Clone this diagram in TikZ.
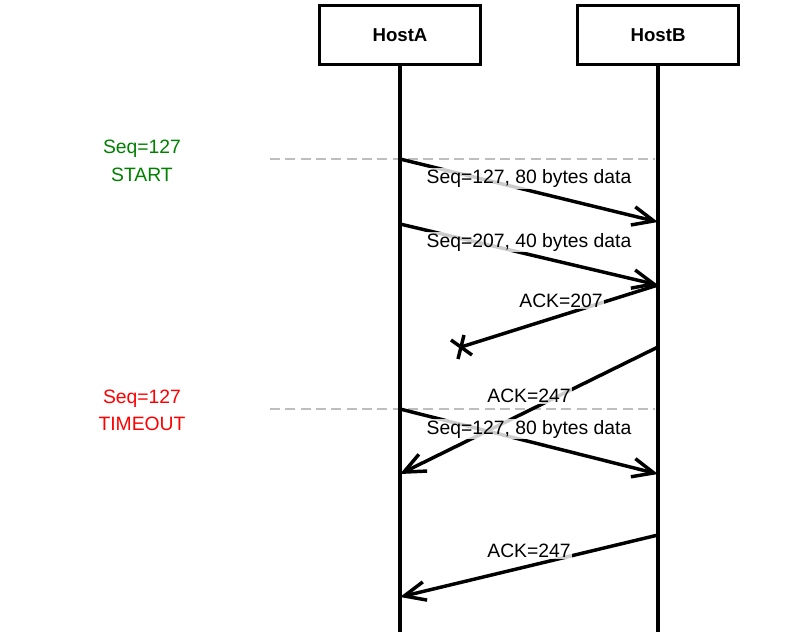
\documentclass[tikz,border=0pt]{standalone}
\usepackage{fontspec}
\setmainfont{Liberation Sans}
\usetikzlibrary{arrows.meta}
\definecolor{dashgray}{RGB}{190,190,190}
\definecolor{startgreen}{RGB}{0,128,0}
\definecolor{timeoutred}{RGB}{255,0,0}
\begin{document}
\begin{tikzpicture}[x=0.75pt,y=-0.75pt,
  font=\fontsize{14.5}{17}\selectfont,
  host/.style={draw, line width=2.6pt, minimum width=120.5pt, minimum height=44pt, inner sep=0pt,
    font=\fontsize{14}{17}\selectfont\bfseries},
  life/.style={line width=2.6pt},
  msg/.style={line width=2.6pt, -{Straight Barb[length=16pt,width=14pt,line width=2.6pt]}},
  lost/.style={line width=2.6pt},
  lbl/.style={fill=white, fill opacity=0.8, text opacity=1, inner sep=1pt, anchor=base},
  side/.style={anchor=base, inner sep=0pt},
  marker/.style={dashgray, line width=2.2pt, dash pattern=on 7.5pt off 4pt}]
\useasboundingbox (0,0) rectangle (800,632);

% hosts and lifelines
\node[host] (A) at (400,35) {HostA};
\node[host] (B) at (658,35) {HostB};
\coordinate (Aend) at (400,632);
\coordinate (Bend) at (658,632);

% dashed time markers
\coordinate (m1s) at (270,159);
\coordinate (m1e) at (655,159);
\coordinate (m2s) at (270,409);
\coordinate (m2e) at (655,409);
\draw[marker] (m1s) -- (m1e);
\draw[marker] (m2s) -- (m2e);

\draw[life] (A.south) -- (Aend);
\draw[life] (B.south) -- (Bend);

% message end points
\coordinate (a1) at (400,159);
\coordinate (b1) at (658,222);
\coordinate (a2) at (400,224);
\coordinate (b2) at (658,285);
\coordinate (lostpt) at (461,347);
\coordinate (b4) at (658,347);
\coordinate (a4) at (400,474);
\coordinate (a5) at (400,409);
\coordinate (b5) at (658,474);
\coordinate (b6) at (658,535);
\coordinate (a6) at (400,597);

\draw[msg] (a1) -- (b1);
\draw[msg] (a2) -- (b2);
\draw[lost] (b2) -- (lostpt);
\draw[lost] ([shift={(-10,-7)}]lostpt) -- ([shift={(11,8)}]lostpt)
            ([shift={(3,-12)}]lostpt) -- ([shift={(-3,12)}]lostpt);
\draw[msg] (b4) -- (a4);
\draw[msg] (a5) -- (b5);
\draw[msg] (b6) -- (a6);

% message labels
\node[lbl] (l1) at (529,183.5) {Seq=127, 80 bytes data};
\node[lbl] (l2) at (529,247) {Seq=207, 40 bytes data};
\node[lbl] (l3) at (561,307.5) {ACK=207};
\node[lbl] (l4) at (529,402) {ACK=247};
\node[lbl] (l5) at (529,434) {Seq=127, 80 bytes data};
\node[lbl] (l6) at (529,557) {ACK=247};

% side labels
\node[side, text=startgreen] (s1) at (142,153) {Seq=127};
\node[side, text=startgreen] (s2) at (142,181) {START};
\node[side, text=timeoutred] (t1) at (142,403) {Seq=127};
\node[side, text=timeoutred] (t2) at (142,430) {TIMEOUT};
\end{tikzpicture}
\end{document}
